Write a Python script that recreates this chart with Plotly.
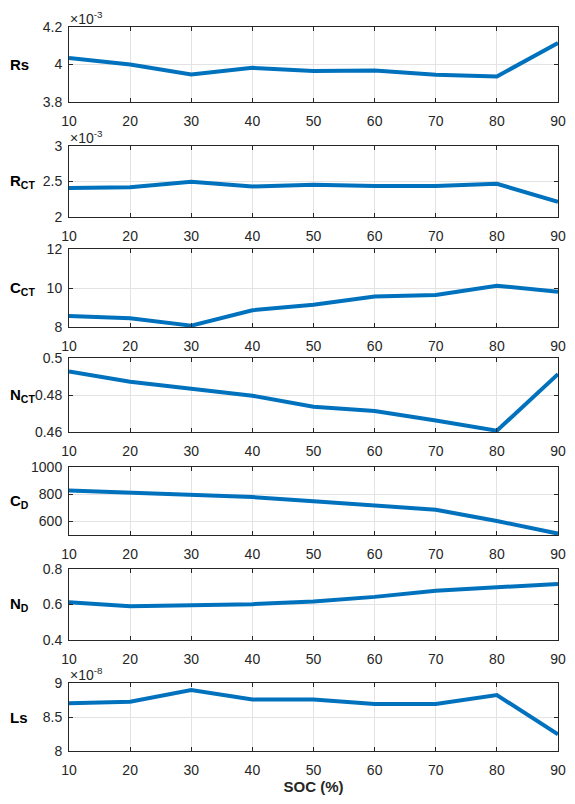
import plotly.graph_objects as go

# ---------------- data ----------------
soc = [10, 20, 30, 40, 50, 60, 70, 80, 90]

rs = [4.035, 4.000, 3.947, 3.982, 3.965, 3.968, 3.945, 3.936, 4.115]      # x 1e-3
rct = [2.409, 2.419, 2.495, 2.430, 2.455, 2.438, 2.438, 2.468, 2.212]     # x 1e-3
cct = [8.57, 8.45, 8.07, 8.86, 9.14, 9.56, 9.64, 10.12, 9.81]
nct = [0.4927, 0.4872, 0.4834, 0.4796, 0.4736, 0.4713, 0.4662, 0.4607, 0.4913]
cd = [828, 814, 797, 779, 748, 719, 686, 603, 510]
nd = [0.612, 0.590, 0.596, 0.602, 0.617, 0.643, 0.678, 0.696, 0.716]
ls = [8.703, 8.726, 8.895, 8.757, 8.757, 8.693, 8.693, 8.822, 8.245]     # x 1e-8

x_ticks = [10, 20, 30, 40, 50, 60, 70, 80, 90]

panels = [
    dict(y=rs,  label="<b>Rs</b>",               rng=[3.8, 4.2],   tv=[3.8, 4.0, 4.2],   tt=["3.8", "4", "4.2"],       exp="-3"),
    dict(y=rct, label="<b>R<sub>CT</sub></b>",   rng=[2, 3],       tv=[2, 2.5, 3],       tt=["2", "2.5", "3"],         exp="-3"),
    dict(y=cct, label="<b>C<sub>CT</sub></b>",   rng=[8, 12],      tv=[8, 10, 12],       tt=["8", "10", "12"],         exp=None),
    dict(y=nct, label="<b>N<sub>CT</sub></b>",   rng=[0.46, 0.5],  tv=[0.46, 0.48, 0.5], tt=["0.46", "0.48", "0.5"],   exp=None),
    dict(y=cd,  label="<b>C<sub>D</sub></b>",    rng=[500, 1000],  tv=[600, 800, 1000],  tt=["600", "800", "1000"],    exp=None),
    dict(y=nd,  label="<b>N<sub>D</sub></b>",    rng=[0.4, 0.8],   tv=[0.4, 0.6, 0.8],   tt=["0.4", "0.6", "0.8"],     exp=None),
    dict(y=ls,  label="<b>Ls</b>",               rng=[8, 9],       tv=[8, 8.5, 9],       tt=["8", "8.5", "9"],         exp="-8"),
]

# ---------------- layout geometry (pixels) ----------------
W, H = 575, 804
ML, MR, MT, MB = 69, 9, 27, 53
box_px = [(27, 102), (146, 217), (249, 327), (358, 432), (467, 535), (569, 640), (683, 751)]
ph = H - MT - MB
pw = W - ML - MR

AX_COL = "#262626"
GRID = "#e3e3e3"
LINE = "#0072BD"
FONT = "Liberation Sans, Arial, Helvetica, sans-serif"

fig = go.Figure()
layout = dict(
    width=W, height=H,
    margin=dict(l=ML, r=MR, t=MT, b=MB),
    paper_bgcolor="white", plot_bgcolor="white",
    showlegend=False,
    font=dict(family=FONT, size=13, color=AX_COL),
)
annotations = []

for i, p in enumerate(panels):
    n = i + 1
    xa = "x" if n == 1 else f"x{n}"
    ya = "y" if n == 1 else f"y{n}"
    fig.add_trace(go.Scatter(x=soc, y=p["y"], mode="lines",
                             line=dict(color=LINE, width=4),
                             xaxis=xa, yaxis=ya, hoverinfo="skip"))
    top, bot = box_px[i]
    dom = [(H - MB - bot) / ph, (H - MB - top) / ph]
    common = dict(showline=True, linecolor=AX_COL, linewidth=1, mirror="ticks",
                  ticks="inside", ticklen=4, tickcolor=AX_COL, tickwidth=1,
                  showgrid=True, gridcolor=GRID, gridwidth=1, zeroline=False,
                  tickfont=dict(family=FONT, size=14, color=AX_COL))
    layout[f"xaxis{n}"] = dict(common, domain=[0, 1], anchor=ya, range=[10, 90],
                               tickvals=x_ticks, ticktext=[str(v) for v in x_ticks],
                               ticklabelstandoff=6)
    layout[f"yaxis{n}"] = dict(common, domain=dom, anchor=xa, range=p["rng"],
                               tickvals=p["tv"], ticktext=p["tt"],
                               ticklabelstandoff=3)
    annotations.append(dict(text=p["label"], xref="paper", x=(7 - ML) / pw, xanchor="left",
                            yref=f"{ya} domain", y=0.5, yanchor="middle", showarrow=False,
                            font=dict(family=FONT, size=15, color="black")))
    if p["exp"]:
        annotations.append(dict(text=f"×10<sup>{p['exp']}</sup>", xref=f"{xa} domain", x=0,
                                xanchor="left", yref=f"{ya} domain", y=1, yanchor="bottom",
                                showarrow=False, yshift=-1, borderpad=0,
                                font=dict(family=FONT, size=14, color=AX_COL)))

layout["xaxis7"]["title"] = dict(text="<b>SOC (%)</b>", standoff=2,
                                 font=dict(family=FONT, size=15, color=AX_COL))
layout["annotations"] = annotations
fig.update_layout(**layout)
fig.write_html("out.html", config={"displayModeBar": False},
               post_script="document.body.style.margin='0';document.body.style.overflow='hidden';")
